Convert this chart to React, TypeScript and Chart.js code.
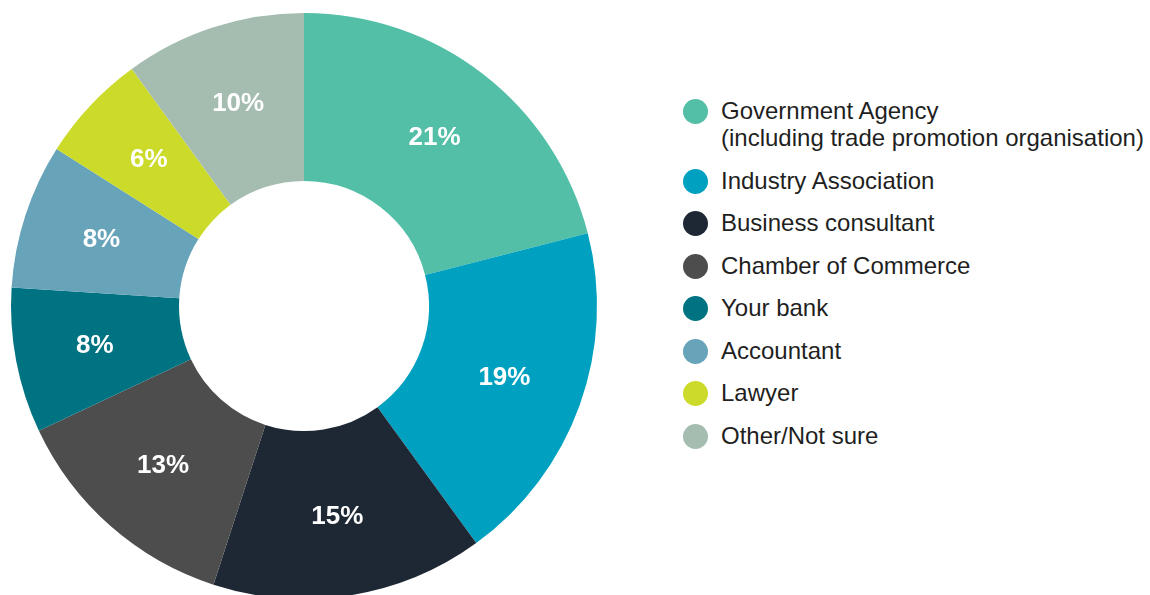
import React, { useEffect, useRef } from "react";
import { Chart, registerables } from "chart.js";

Chart.register(...registerables);

const categories: string[] = [
  "Government Agency\n(including trade promotion organisation)",
  "Industry Association",
  "Business consultant",
  "Chamber of Commerce",
  "Your bank",
  "Accountant",
  "Lawyer",
  "Other/Not sure",
];

const shares: number[] = [21, 19, 15, 13, 8, 8, 6, 10];

const colors: string[] = [
  "#52BFA6",
  "#00A0C0",
  "#1E2835",
  "#4D4D4D",
  "#007382",
  "#67A3B9",
  "#CCDB2A",
  "#A5BDB0",
];

const FONT = "'Liberation Sans', Arial, Helvetica, sans-serif";

const sliceLabels = {
  id: "sliceLabels",
  afterDatasetsDraw(chart: any) {
    const { ctx } = chart;
    const meta = chart.getDatasetMeta(0);
    ctx.save();
    ctx.fillStyle = "#ffffff";
    ctx.font = `bold 26px ${FONT}`;
    ctx.textAlign = "center";
    ctx.textBaseline = "middle";
    meta.data.forEach((arc: any, i: number) => {
      const { x, y, startAngle, endAngle, innerRadius, outerRadius } = arc.getProps([
        "x",
        "y",
        "startAngle",
        "endAngle",
        "innerRadius",
        "outerRadius",
      ]);
      const mid = (startAngle + endAngle) / 2;
      const r = (innerRadius + outerRadius) / 2 + 4;
      ctx.fillText(`${shares[i]}%`, x + Math.cos(mid) * r, y + Math.sin(mid) * r);
    });
    ctx.restore();
  },
};

export default function App() {
  const ref = useRef<HTMLCanvasElement | null>(null);

  useEffect(() => {
    document.body.style.margin = "0";
    document.body.style.overflow = "hidden";
    if (!ref.current) return;
    const chart = new Chart(ref.current, {
      type: "doughnut",
      data: {
        labels: categories,
        datasets: [
          {
            data: shares,
            backgroundColor: colors,
            borderWidth: 0,
            hoverOffset: 0,
          },
        ],
      },
      options: {
        animation: false,
        responsive: false,
        radius: 293,
        cutout: 125,
        layout: { padding: { left: 11, top: 13, right: 23, bottom: 21 } },
        plugins: {
          legend: { display: false },
          tooltip: { enabled: false },
        },
        events: [],
      },
      plugins: [sliceLabels],
    });
    return () => chart.destroy();
  }, []);

  return (
    <div
      style={{
        position: "fixed",
        left: 0,
        top: 0,
        width: 1150,
        height: 595,
        overflow: "hidden",
        background: "#ffffff",
        fontFamily: FONT,
      }}
    >
      <canvas
        ref={ref}
        width={620}
        height={620}
        style={{ position: "absolute", left: 0, top: 0, width: 620, height: 620 }}
      />
      <div style={{ position: "absolute", left: 683, top: 97 }}>
        {categories.map((c, i) => (
          <div
            key={i}
            style={{
              display: "flex",
              alignItems: "flex-start",
              marginBottom: 15.5,
            }}
          >
            <span
              style={{
                width: 25,
                height: 25,
                borderRadius: "50%",
                background: colors[i],
                marginTop: 2,
                flex: "0 0 auto",
              }}
            />
            <span
              style={{
                marginLeft: 13,
                fontSize: 24,
                lineHeight: "27px",
                color: "#1f1f1f",
                whiteSpace: "pre-line",
              }}
            >
              {c}
            </span>
          </div>
        ))}
      </div>
    </div>
  );
}
